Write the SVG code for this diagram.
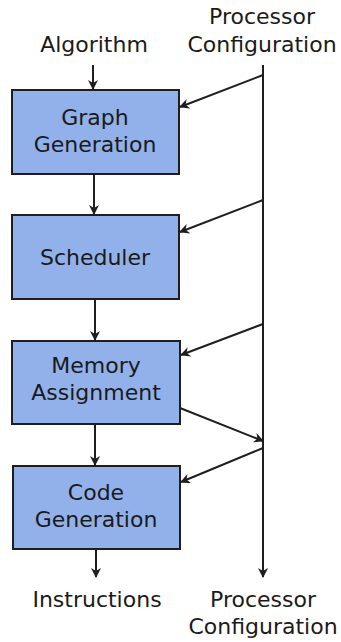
<svg xmlns="http://www.w3.org/2000/svg" width="341" height="642" viewBox="0 0 341 642">
<defs>
<style>
.box{fill:#92b1ea;stroke:#1e1e1e;stroke-width:2}
.t{font-family:"DejaVu Sans",sans-serif;font-size:22px;fill:#1a1a1a;text-anchor:middle}
.c{stroke:#1e1e1e;stroke-width:2;fill:none}
</style>
<marker id="ah" viewBox="0 0 10 10" refX="9" refY="5" markerWidth="10" markerHeight="10" markerUnits="userSpaceOnUse" orient="auto">
<path d="M0,0 L10,5 L0,10 L3,5 Z" fill="#1e1e1e"/>
</marker>
</defs>
<rect width="341" height="642" fill="#ffffff"/>
<g id="label-algorithm"><text class="t" x="94" y="52">Algorithm</text></g>
<g id="label-proc-in"><text class="t" x="262" y="24">Processor</text><text class="t" x="262" y="52">Configuration</text></g>
<g id="node-graph"><rect class="box" x="12" y="90" width="167" height="84"/><text class="t" x="95" y="125">Graph</text><text class="t" x="95" y="152">Generation</text></g>
<g id="node-sched"><rect class="box" x="12" y="215" width="167" height="84"/><text class="t" x="95" y="265">Scheduler</text></g>
<g id="node-mem"><rect class="box" x="12" y="341" width="168" height="83"/><text class="t" x="96" y="373">Memory</text><text class="t" x="96" y="400">Assignment</text></g>
<g id="node-code"><rect class="box" x="13" y="466" width="167" height="83"/><text class="t" x="96" y="500">Code</text><text class="t" x="96" y="527">Generation</text></g>
<g id="label-instr"><text class="t" x="97" y="607">Instructions</text></g>
<g id="label-proc-out"><text class="t" x="263" y="607">Processor</text><text class="t" x="263" y="634">Configuration</text></g>
<g id="connectors">
<line class="c" x1="93" y1="65" x2="93" y2="89" marker-end="url(#ah)"/>
<line class="c" x1="94" y1="174" x2="94" y2="214" marker-end="url(#ah)"/>
<line class="c" x1="95" y1="299" x2="95" y2="340" marker-end="url(#ah)"/>
<line class="c" x1="95" y1="424" x2="95" y2="465" marker-end="url(#ah)"/>
<line class="c" x1="96" y1="549" x2="96" y2="577" marker-end="url(#ah)"/>
<line class="c" x1="263" y1="65" x2="263" y2="577" marker-end="url(#ah)"/>
<line class="c" x1="263" y1="75" x2="180" y2="107" marker-end="url(#ah)"/>
<line class="c" x1="263" y1="200" x2="180" y2="232" marker-end="url(#ah)"/>
<line class="c" x1="263" y1="324" x2="181" y2="355" marker-end="url(#ah)"/>
<line class="c" x1="180" y1="408" x2="263" y2="441" marker-end="url(#ah)"/>
<line class="c" x1="263" y1="448" x2="181" y2="482" marker-end="url(#ah)"/>
</g>
</svg>
